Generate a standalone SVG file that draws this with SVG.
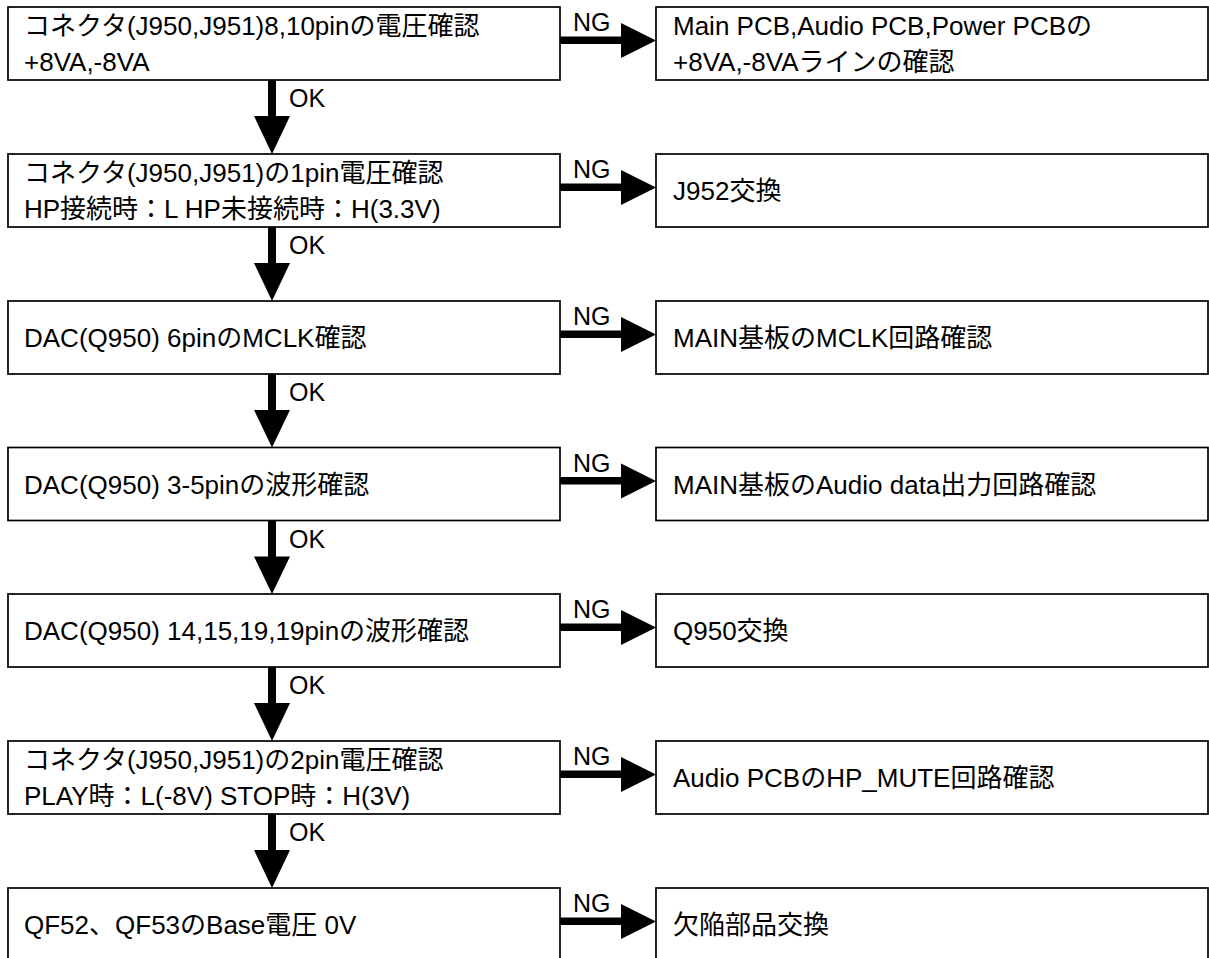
<svg xmlns="http://www.w3.org/2000/svg" width="1209" height="958" viewBox="0 0 1209 958">
<style>
.box{fill:#fff;stroke:#000;stroke-width:1.7}
.t{font-family:"Liberation Sans","Noto Sans CJK JP",sans-serif;font-size:26px;fill:#000}
.lbl{font-family:"Liberation Sans","Noto Sans CJK JP",sans-serif;font-size:25px;fill:#000}
.sh{fill:#000}
</style>
<rect width="1209" height="958" fill="#fff"/>
<g id="n1"><rect class="box" x="8" y="7" width="552" height="73"/><text class="t" x="24" y="35">コネクタ(J950,J951)8,10pinの電圧確認</text><text class="t" x="24" y="70.5">+8VA,-8VA</text></g>
<g id="r1"><rect class="box" x="656" y="7" width="552" height="73"/><text class="t" x="673" y="35">Main PCB,Audio PCB,Power PCBの</text><text class="t" x="673" y="70.5">+8VA,-8VAラインの確認</text></g>
<g id="n2"><rect class="box" x="8" y="154" width="552" height="73"/><text class="t" x="24" y="182">コネクタ(J950,J951)の1pin電圧確認</text><text class="t" x="24" y="217.5">HP接続時：L HP未接続時：H(3.3V)</text></g>
<g id="r2"><rect class="box" x="656" y="154" width="552" height="73"/><text class="t" x="673" y="200">J952交換</text></g>
<g id="n3"><rect class="box" x="8" y="301" width="552" height="73"/><text class="t" x="24" y="347">DAC(Q950) 6pinのMCLK確認</text></g>
<g id="r3"><rect class="box" x="656" y="301" width="552" height="73"/><text class="t" x="673" y="347">MAIN基板のMCLK回路確認</text></g>
<g id="n4"><rect class="box" x="8" y="447.5" width="552" height="73"/><text class="t" x="24" y="493.5">DAC(Q950) 3-5pinの波形確認</text></g>
<g id="r4"><rect class="box" x="656" y="447.5" width="552" height="73"/><text class="t" x="673" y="493.5">MAIN基板のAudio data出力回路確認</text></g>
<g id="n5"><rect class="box" x="8" y="594" width="552" height="73"/><text class="t" x="24" y="640">DAC(Q950) 14,15,19,19pinの波形確認</text></g>
<g id="r5"><rect class="box" x="656" y="594" width="552" height="73"/><text class="t" x="673" y="640">Q950交換</text></g>
<g id="n6"><rect class="box" x="8" y="741" width="552" height="73"/><text class="t" x="24" y="769">コネクタ(J950,J951)の2pin電圧確認</text><text class="t" x="24" y="804.5">PLAY時：L(-8V) STOP時：H(3V)</text></g>
<g id="r6"><rect class="box" x="656" y="741" width="552" height="73"/><text class="t" x="673" y="787">Audio PCBのHP_MUTE回路確認</text></g>
<g id="n7"><rect class="box" x="8" y="888" width="552" height="73"/><text class="t" x="24" y="934">QF52、QF53のBase電圧 0V</text></g>
<g id="r7"><rect class="box" x="656" y="888" width="552" height="73"/><text class="t" x="673" y="934">欠陥部品交換</text></g>
<g id="connectors">
<g id="down">
<rect class="sh" x="268" y="80" width="8" height="37"/><polygon class="sh" points="254,116 290,116 272,154"/>
<rect class="sh" x="268" y="227" width="8" height="37"/><polygon class="sh" points="254,263 290,263 272,301"/>
<rect class="sh" x="268" y="374" width="8" height="37"/><polygon class="sh" points="254,410 290,410 272,447.5"/>
<rect class="sh" x="268" y="520.5" width="8" height="37"/><polygon class="sh" points="254,556.5 290,556.5 272,594"/>
<rect class="sh" x="268" y="667" width="8" height="37"/><polygon class="sh" points="254,703 290,703 272,741"/>
<rect class="sh" x="268" y="814" width="8" height="37"/><polygon class="sh" points="254,850 290,850 272,888"/>
</g>
<g id="right">
<rect class="sh" x="560" y="36.5" width="62" height="7.5"/><polygon class="sh" points="621,23 621,58 656,40.5"/>
<rect class="sh" x="560" y="183.5" width="62" height="7.5"/><polygon class="sh" points="621,170 621,205 656,187.5"/>
<rect class="sh" x="560" y="330.5" width="62" height="7.5"/><polygon class="sh" points="621,317 621,352 656,334.5"/>
<rect class="sh" x="560" y="477" width="62" height="7.5"/><polygon class="sh" points="621,463.5 621,498.5 656,481"/>
<rect class="sh" x="560" y="623.5" width="62" height="7.5"/><polygon class="sh" points="621,610 621,645 656,627.5"/>
<rect class="sh" x="560" y="770.5" width="62" height="7.5"/><polygon class="sh" points="621,757 621,792 656,774.5"/>
<rect class="sh" x="560" y="917.5" width="62" height="7.5"/><polygon class="sh" points="621,904 621,939 656,921.5"/>
</g>
<g id="labels">
<text class="lbl" x="573" y="31">NG</text>
<text class="lbl" x="573" y="178">NG</text>
<text class="lbl" x="573" y="325">NG</text>
<text class="lbl" x="573" y="471.5">NG</text>
<text class="lbl" x="573" y="618">NG</text>
<text class="lbl" x="573" y="765">NG</text>
<text class="lbl" x="573" y="912">NG</text>
<text class="lbl" x="289" y="107">OK</text>
<text class="lbl" x="289" y="254">OK</text>
<text class="lbl" x="289" y="401">OK</text>
<text class="lbl" x="289" y="547.5">OK</text>
<text class="lbl" x="289" y="694">OK</text>
<text class="lbl" x="289" y="841">OK</text>
</g>
</g>
</svg>
